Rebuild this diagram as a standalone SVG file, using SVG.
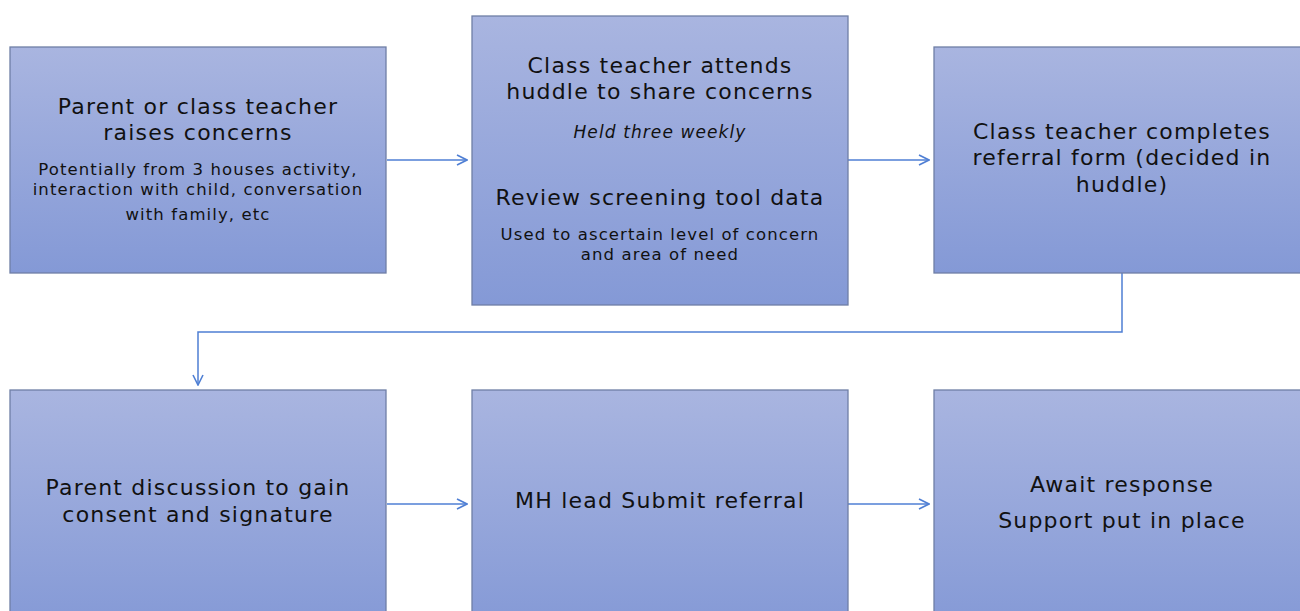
<svg xmlns="http://www.w3.org/2000/svg" width="1300" height="611" viewBox="0 0 1300 611">
<defs>
<linearGradient id="g" x1="0" y1="0" x2="0" y2="1">
<stop offset="0" stop-color="#A9B5E0"/>
<stop offset="1" stop-color="#8499D6"/>
</linearGradient>
<marker id="arr" viewBox="0 0 12 12" refX="11" refY="6" markerWidth="12" markerHeight="12" markerUnits="userSpaceOnUse" orient="auto">
<path d="M1,1 L11,6 L1,11" fill="none" stroke="#4F7FD4" stroke-width="1.6"/>
</marker>
</defs>
<style>
.box{fill:url(#g);stroke:#6F7FA6;stroke-width:1.3}
.t{font-family:"DejaVu Sans","Noto Sans",sans-serif;font-size:22px;letter-spacing:1.2px;fill:#111;text-anchor:middle}
.s{font-family:"DejaVu Sans","Noto Sans",sans-serif;font-size:16.5px;letter-spacing:1.1px;fill:#111;text-anchor:middle}
.i{font-style:italic;font-size:17px}
.c{fill:none;stroke:#4F7FD4;stroke-width:1.5}
</style>
<rect width="1300" height="611" fill="#fff"/>
<g id="connectors">
<line class="c" x1="387" y1="160" x2="467" y2="160" marker-end="url(#arr)"/>
<line class="c" x1="848" y1="160" x2="929" y2="160" marker-end="url(#arr)"/>
<polyline class="c" points="1122,273 1122,332 198,332 198,385" marker-end="url(#arr)"/>
<line class="c" x1="387" y1="504" x2="467" y2="504" marker-end="url(#arr)"/>
<line class="c" x1="848" y1="504" x2="929" y2="504" marker-end="url(#arr)"/>
</g>
<g id="n1">
<rect class="box" x="10" y="47" width="376" height="226"/>
<text class="t" x="198" y="114">Parent or class teacher</text>
<text class="t" x="198" y="140">raises concerns</text>
<text class="s" x="198" y="175">Potentially from 3 houses activity,</text>
<text class="s" x="198" y="195">interaction with child, conversation</text>
<text class="s" x="198" y="220">with family, etc</text>
</g>
<g id="n2">
<rect class="box" x="472" y="16" width="376" height="289"/>
<text class="t" x="660" y="73">Class teacher attends</text>
<text class="t" x="660" y="99">huddle to share concerns</text>
<text class="s i" x="660" y="138">Held three weekly</text>
<text class="t" x="660" y="205">Review screening tool data</text>
<text class="s" x="660" y="240">Used to ascertain level of concern</text>
<text class="s" x="660" y="260">and area of need</text>
</g>
<g id="n3">
<rect class="box" x="934" y="47" width="376" height="226"/>
<text class="t" x="1122" y="139">Class teacher completes</text>
<text class="t" x="1122" y="165">referral form (decided in</text>
<text class="t" x="1122" y="192">huddle)</text>
</g>
<g id="n4">
<rect class="box" x="10" y="390" width="376" height="240"/>
<text class="t" x="198" y="495">Parent discussion to gain</text>
<text class="t" x="198" y="522">consent and signature</text>
</g>
<g id="n5">
<rect class="box" x="472" y="390" width="376" height="240"/>
<text class="t" x="660" y="508">MH lead Submit referral</text>
</g>
<g id="n6">
<rect class="box" x="934" y="390" width="376" height="240"/>
<text class="t" x="1122" y="492">Await response</text>
<text class="t" x="1122" y="528">Support put in place</text>
</g>
</svg>
